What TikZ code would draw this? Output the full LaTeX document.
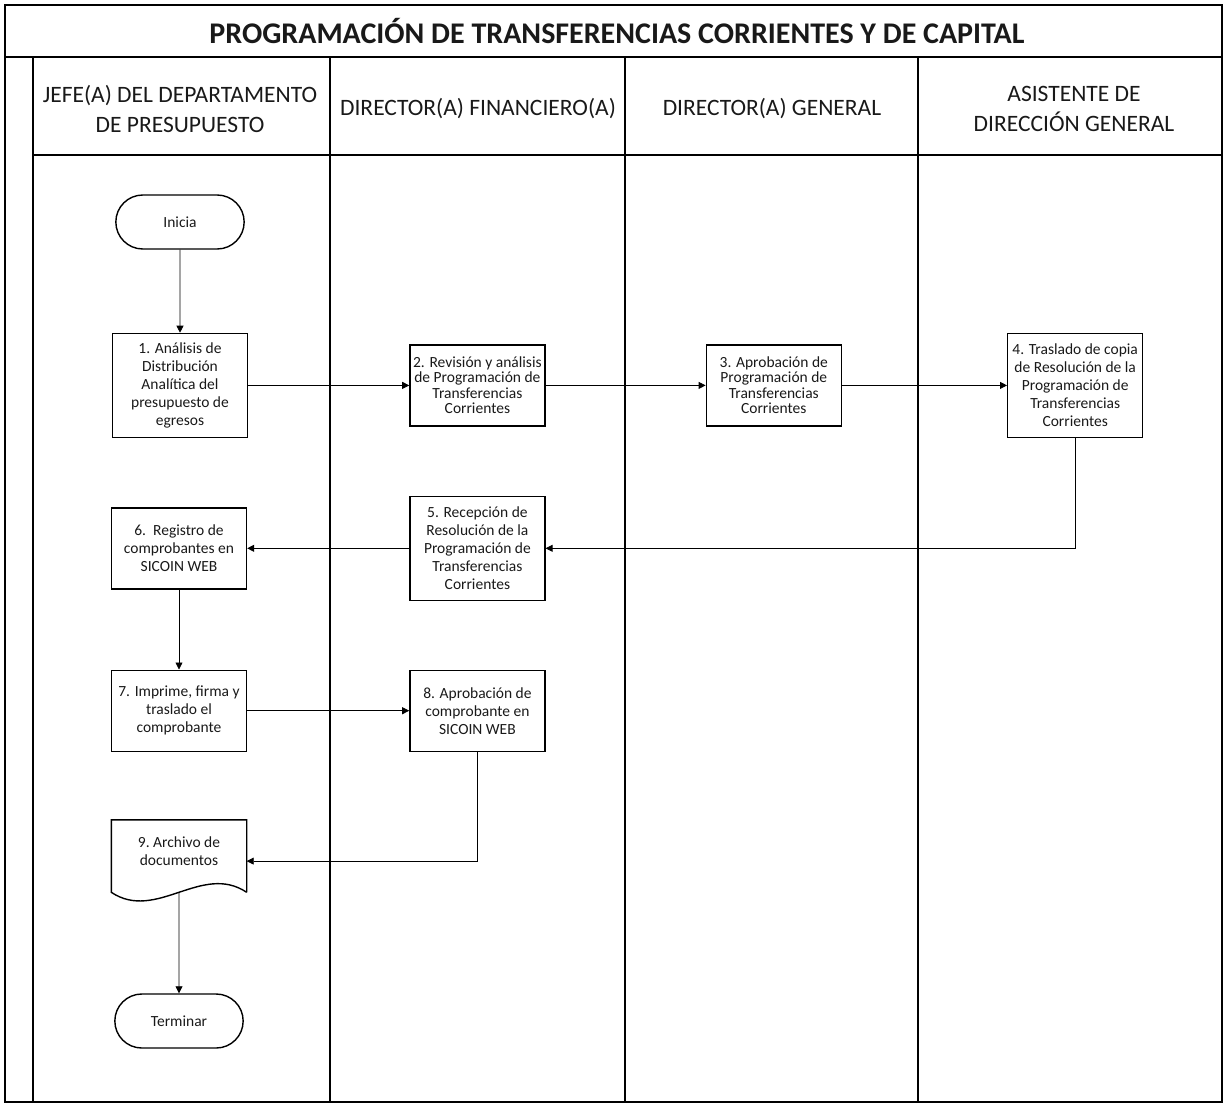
\documentclass[tikz,border=0pt]{standalone}
\usepackage{fontspec}
\setmainfont{Carlito}
\usepackage{tikz}
\usetikzlibrary{arrows.meta,positioning,shapes.misc}

\begin{document}
\begin{tikzpicture}[
  x=1pt, y=-1pt,
  >={Triangle[length=7pt,width=7pt]},
  every node/.style={align=center, text=black!90},
  title/.style={font=\fontsize{30}{34}\selectfont\bfseries},
  head/.style={font=\fontsize{23.5}{30}\selectfont},
  term/.style={draw, rounded rectangle, line width=1.4pt, minimum width=135pt, minimum height=54pt, font=\fontsize{15.5}{18}\selectfont},
  proc/.style={draw, line width=1.4pt, minimum width=135pt, minimum height=81pt, inner sep=3pt, font=\fontsize{15.5}{18}\selectfont},
  tight/.style={font=\fontsize{15.5}{15.5}\selectfont},
  tall/.style={minimum height=104pt},
  docbox/.style={minimum width=135pt, minimum height=62pt, font=\fontsize{15.5}{18}\selectfont},
  boxline/.style={line width=1.4pt},
  frame/.style={line width=1.5pt},
  lane/.style={line width=1.2pt},
  arrow/.style={->, line width=0.8pt}
]
\useasboundingbox (0,0) rectangle (1226,1106);

% table frame and lanes
\draw[frame] (5,5) rectangle (1222,1102);
\draw[frame] (5,57) -- (1222,57);
\draw[lane] (33,155) -- (1222,155);
\draw[lane] (33,57) -- (33,1102);
\draw[lane] (330,57) -- (330,1102);
\draw[lane] (625,57) -- (625,1102);
\draw[lane] (918,57) -- (918,1102);

\node[title] (title) at (617,31) {PROGRAMACIÓN DE TRANSFERENCIAS CORRIENTES Y DE CAPITAL};
\node[head] (hjefe) at (180,109) {JEFE(A) DEL DEPARTAMENTO\\DE PRESUPUESTO};
\node[head] (hdirfin) at (478,109) {DIRECTOR(A) FINANCIERO(A)};
\node[head] (hdirgen) at (772,109) {DIRECTOR(A) GENERAL};
\node[head] (hasist) at (1074,109) {ASISTENTE DE\\DIRECCIÓN GENERAL};

% steps
\node[term] (inicia) at (180,222) {Inicia};
\node[proc, tall, below=83pt of inicia] (box1) {1. Análisis de\\Distribución\\Analítica del\\presupuesto de\\egresos};
\node[proc, tight, right=161pt of box1] (box2) {2. Revisión y análisis\\de Programación de\\Transferencias\\Corrientes};
\node[proc, tight, right=160pt of box2] (box3) {3. Aprobación de\\Programación de\\Transferencias\\Corrientes};
\node[proc, tall, right=165pt of box3] (box4) {4. Traslado de copia\\de Resolución de la\\Programación de\\Transferencias\\Corrientes};
\node[proc, tall, below=69pt of box2] (box5) {5. Recepción de\\Resolución de la\\Programación de\\Transferencias\\Corrientes};
\node[proc, left=162pt of box5] (box6) {6.\ \ Registro de\\comprobantes en\\SICOIN WEB};
\node[proc, below=80pt of box6] (box7) {7. Imprime, firma y\\traslado el\\comprobante};
\node[proc, right=162pt of box7] (box8) {8. Aprobación de\\comprobante en\\SICOIN WEB};
\node[docbox, below=68pt of box7] (doc9) {9.\ Archivo de\\documentos};
\node[term, below=111pt of doc9] (terminar) {Terminar};

% document outline
\draw[boxline] ([yshift=-10pt]doc9.south east) -- (doc9.north east) -- (doc9.north west) -- ([yshift=-10pt]doc9.south west)
  .. controls +(45pt,-30pt) and +(-45pt,30pt) .. ([yshift=-10pt]doc9.south east);

% flow
\draw[arrow] (inicia) -- (box1);
\draw[arrow] (box1) -- (box2);
\draw[arrow] (box2) -- (box3);
\draw[arrow] (box3) -- (box4);
\draw[arrow] (box4.south) |- (box5.east);
\draw[arrow] (box5) -- (box6);
\draw[arrow] (box6) -- (box7);
\draw[arrow] (box7) -- (box8);
\draw[arrow] (box8.south) |- ([yshift=-10pt]doc9.east);
\draw[arrow] ([yshift=-10pt]doc9.south) -- (terminar);

\end{tikzpicture}
\end{document}
